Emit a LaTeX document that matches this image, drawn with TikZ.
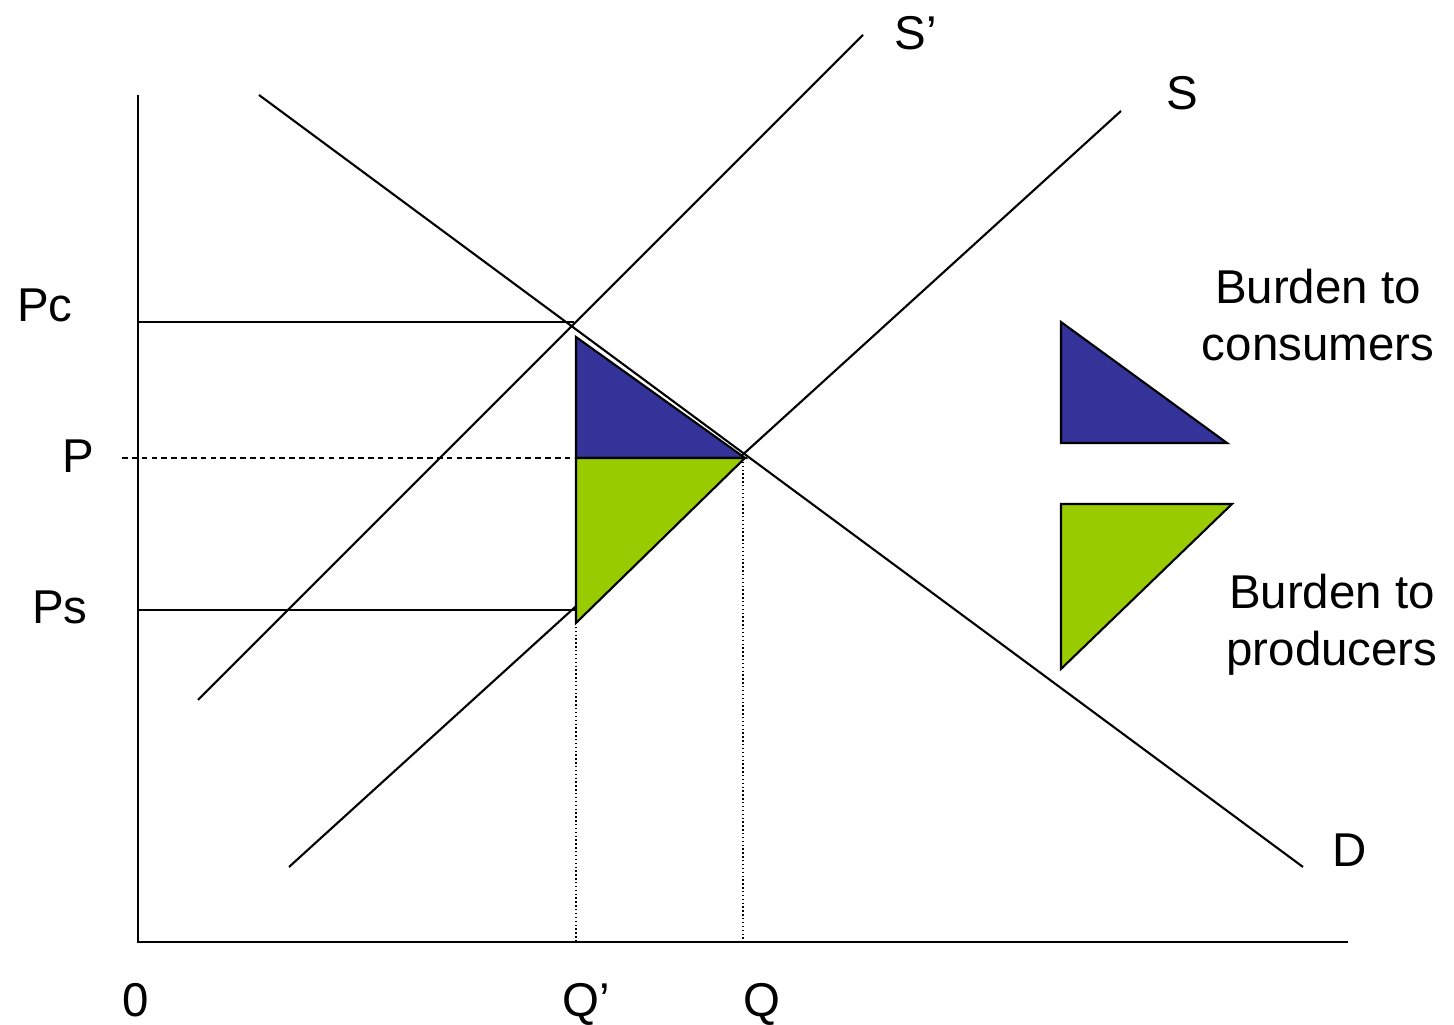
\documentclass[tikz,border=0pt]{standalone}
\usepackage{fontspec}
\setmainfont{Liberation Sans}
\definecolor{burdenblue}{HTML}{333399}
\definecolor{burdengreen}{HTML}{99CC00}
\begin{document}
\begin{tikzpicture}[x=1.0cm,y=1.0cm,
  curve/.style={line width=0.6pt},
  share/.style={draw=black,line width=0.6pt,line join=miter},
  guide/.style={line width=0.4pt,dash pattern=on 0.4pt off 0.7pt},
  lbl/.style={inner sep=0pt,font=\fontsize{13.5}{16.2}\selectfont}]
  \useasboundingbox (0,0) rectangle (14.54,10.25);
  % axes
  \draw[curve] (1.38,9.30) -- (1.38,0.83) -- (13.48,0.83);
  % demand, supply and supply after the tax
  \draw[curve] (2.59,9.30) -- (13.03,1.58);
  \draw[curve] (2.89,1.58) -- (11.21,9.14);
  \draw[curve] (1.98,3.25) -- (8.63,9.90);
  % price lines
  \draw[curve] (1.38,7.03) -- (5.74,7.03);
  \draw[curve] (1.38,4.15) -- (5.76,4.15);
  \draw[line width=0.6pt,dash pattern=on 1.6pt off 1.2pt] (1.22,5.67) -- (7.45,5.67);
  \draw[guide] (5.76,4.02) -- (5.76,0.83);
  \draw[guide] (7.43,5.67) -- (7.43,0.83);
  % shares of the tax
  \filldraw[share,fill=burdenblue] (5.76,6.88) -- (5.76,5.67) -- (7.45,5.67) -- cycle;
  \filldraw[share,fill=burdengreen] (5.76,5.67) -- (7.45,5.67) -- (5.76,4.02) -- cycle;
  % legend
  \filldraw[share,fill=burdenblue] (10.61,7.03) -- (10.61,5.82) -- (12.27,5.82) -- cycle;
  \filldraw[share,fill=burdengreen] (10.61,5.21) -- (12.32,5.21) -- (10.61,3.56) -- cycle;
  % labels
  \node[lbl,anchor=base] (pc) at (0.45,7.03) {Pc};
  \node[lbl,anchor=base] (p) at (0.78,5.52) {P};
  \node[lbl,anchor=base] (ps) at (0.60,4.01) {Ps};
  \node[lbl,anchor=base] (zero) at (1.36,0.08) {0};
  \node[lbl,anchor=base] (qq) at (5.86,0.08) {Q'};
  \node[lbl,anchor=base] (q) at (7.62,0.08) {Q};
  \node[lbl,anchor=base west] (ss) at (8.94,9.75) {S'};
  \node[lbl,anchor=base] (s) at (11.82,9.15) {S};
  \node[lbl,anchor=base] (d) at (13.50,1.58) {D};
  \node[lbl,align=center] (cons) at (13.18,7.10) {Burden to\\consumers};
  \node[lbl,align=center] (prod) at (13.32,4.00) {Burden to\\producers};
\end{tikzpicture}
\end{document}
